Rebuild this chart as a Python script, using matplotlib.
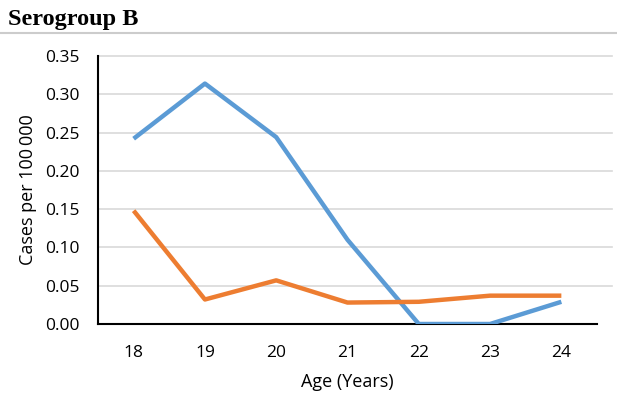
import matplotlib
matplotlib.use("Agg")
import matplotlib.pyplot as plt

ages = ["18", "19", "20", "21", "22", "23", "24"]
blue_vals = [0.242, 0.314, 0.244, 0.110, 0.0, 0.0, 0.029]
orange_vals = [0.148, 0.032, 0.057, 0.028, 0.029, 0.037, 0.037]
yticks = [0.00, 0.05, 0.10, 0.15, 0.20, 0.25, 0.30, 0.35]

fig = plt.figure(figsize=(6.17, 3.98), dpi=100)
ax = fig.add_axes([98/617, 1 - 324/398, (597 - 98)/617, (324 - 56)/398])

x = range(len(ages))
ax.plot(x, blue_vals, color="#5B9BD5", lw=3.2, solid_capstyle="butt", zorder=3)
ax.plot(x, orange_vals, color="#ED7D31", lw=3.2, solid_capstyle="butt", zorder=3)

ax.set_xlim(-0.5, 6.5)
ax.set_ylim(0, 0.35)
ax.set_xticks(list(x))
ax.set_xticklabels(ages)
ax.set_yticks(yticks)
ax.set_yticklabels([f"{v:.2f}" for v in yticks])
# gridlines run a bit past the end of the x axis, as in the source
for v in yticks[1:]:
    ax.axhline(v, xmin=0, xmax=(612 - 98) / 499, color="#d9d9d9", lw=1.2,
               clip_on=False, zorder=1)
for s in ["top", "right"]:
    ax.spines[s].set_visible(False)
for s in ["left", "bottom"]:
    ax.spines[s].set_color("black")
    ax.spines[s].set_linewidth(1.5)
ax.tick_params(length=0, labelsize=12.5)
ax.tick_params(axis="y", pad=13)
ax.tick_params(axis="x", pad=15)
for lab in ax.get_xticklabels() + ax.get_yticklabels():
    lab.set_family("Open Sans")

ax.set_xlabel("Age (Years)", family="Open Sans", fontsize=13, labelpad=9)
ax.set_ylabel("Cases per 100\u2009000", family="Open Sans", fontsize=13, labelpad=6)

fig.text(8/617, 1 - 19/398, "Serogroup B", family="Liberation Serif", weight="bold",
         fontsize=17.5, va="center", ha="left")
fig.add_artist(plt.Line2D([0, 1], [1 - 33/398, 1 - 33/398], color="#cccccc", lw=1.5,
                          transform=fig.transFigure))

fig.savefig("out.png", dpi=100)
